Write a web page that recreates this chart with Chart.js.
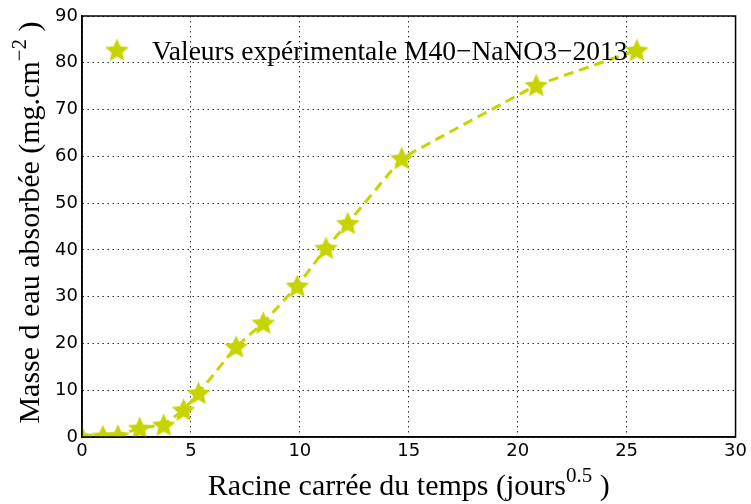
<!DOCTYPE html>
<html>
<head>
<meta charset="utf-8">
<script src="https://cdn.jsdelivr.net/npm/chart.js@4"></script>
<style>
  html, body { margin: 0; padding: 0; background: #fff; }
  #wrap { width: 751px; height: 504px; }
</style>
</head>
<body>
<div id="wrap"><canvas id="chart" width="751" height="504"></canvas></div>
<script>
// square root of time (days^0.5) and absorbed water mass (mg/cm2)
const sqrtTime = [0, 0.96, 1.65, 2.65, 3.75, 4.66, 5.35, 7.07, 8.32, 9.88, 11.2, 12.2, 14.68, 20.85, 25.47];
const massAbsorbed = [0, 0.2, 0.3, 1.9, 2.6, 5.8, 9.4, 19.3, 24.4, 32.3, 40.4, 45.7, 59.6, 75.2, 82.7];
const seriesLabel = 'Valeurs expérimentale M40\u2212NaNO3\u22122013';
const xTitle = [['Racine carrée du temps (jours', false], ['0.5', true], [' )', false]];
const yTitle = [['Masse d eau absorbée (mg.cm', false], ['\u22122', true], [' )', false]];

const starColor = '#c6d400';
const serif = '"Liberation Serif", serif';
const gridColor = 'rgba(0,0,0,0.8)';

// filled five-pointed star used as the marker
function makeStar(r) {
    const c = document.createElement('canvas');
    const s = Math.ceil(r * 2 + 2);
    c.width = s; c.height = s;
    const g = c.getContext('2d');
    g.fillStyle = starColor;
    g.beginPath();
    for (let i = 0; i < 10; i++) {
        const rad = i % 2 === 0 ? r : r * 0.46;
        const a = -Math.PI / 2 + i * Math.PI / 5;
        const px = s / 2 + rad * Math.cos(a);
        const py = s / 2 + rad * Math.sin(a) + r * 0.08;
        if (i === 0) g.moveTo(px, py); else g.lineTo(px, py);
    }
    g.closePath();
    g.fill();
    return c;
}
const star = makeStar(12.5);

// text with a superscript part, centred on (0,0) of the current transform
function drawParts(ctx, parts, size, baseline) {
    const small = Math.round(size * 0.7);
    let total = 0;
    parts.forEach(([t, sup]) => {
        ctx.font = (sup ? small : size) + 'px ' + serif;
        total += ctx.measureText(t).width;
    });
    let x = -total / 2;
    ctx.textAlign = 'left';
    ctx.textBaseline = 'alphabetic';
    parts.forEach(([t, sup]) => {
        ctx.font = (sup ? small : size) + 'px ' + serif;
        ctx.fillText(t, x, sup ? baseline - size * 0.42 : baseline);
        x += ctx.measureText(t).width;
    });
}

const annotations = {
    id: 'annotations',
    afterDraw(chart) {
        const ctx = chart.ctx;
        const area = chart.chartArea;
        ctx.save();
        ctx.fillStyle = '#000';

        // x axis title
        ctx.save();
        ctx.translate((area.left + area.right) / 2, 0);
        drawParts(ctx, xTitle, 30, 495);
        ctx.restore();

        // y axis title
        ctx.save();
        ctx.translate(0, (area.top + area.bottom) / 2 - 4);
        ctx.rotate(-Math.PI / 2);
        drawParts(ctx, yTitle, 30, 39);
        ctx.restore();

        // legend, no frame
        ctx.drawImage(star, area.left + 35 - star.width / 2, area.top + 34 - star.height / 2);
        ctx.font = '27.5px ' + serif;
        ctx.textAlign = 'left';
        ctx.textBaseline = 'alphabetic';
        ctx.fillText(seriesLabel, area.left + 70, area.top + 44);
        ctx.restore();
    }
};

new Chart(document.getElementById('chart'), {
    type: 'line',
    data: {
        datasets: [{
            label: seriesLabel,
            data: sqrtTime.map((x, i) => ({ x: x, y: massAbsorbed[i] })),
            borderColor: starColor,
            backgroundColor: starColor,
            borderWidth: 3,
            borderDash: [10, 6],
            pointStyle: star,
            pointRadius: 12,
            tension: 0,
            clip: 0
        }]
    },
    options: {
        responsive: false,
        animation: false,
        layout: { padding: { top: 16, right: 13, left: 0, bottom: 0 } },
        plugins: { legend: { display: false }, tooltip: { enabled: false } },
        scales: {
            x: {
                type: 'linear',
                min: 0, max: 30,
                ticks: { stepSize: 5, color: '#000', padding: 4, font: { family: '"DejaVu Sans"', size: 18 } },
                grid: { color: gridColor, lineWidth: 1, drawTicks: false },
                border: { display: true, color: '#000', width: 1.5, dash: [1.5, 3.5] },
                afterFit: (scale) => { scale.height = 67; }
            },
            y: {
                min: 0, max: 90,
                ticks: { stepSize: 10, color: '#000', padding: 4, font: { family: '"DejaVu Sans"', size: 18 } },
                grid: { color: gridColor, lineWidth: 1, drawTicks: false },
                border: { display: true, color: '#000', width: 1.5, dash: [1.5, 3.5] },
                afterFit: (scale) => { scale.width = 82; }
            }
        }
    },
    plugins: [annotations, {
        id: 'frame',
        afterDraw(chart) {
            const a = chart.chartArea;
            const ctx = chart.ctx;
            ctx.save();
            ctx.strokeStyle = '#000';
            ctx.lineWidth = 1.5;
            ctx.strokeRect(a.left, a.top, a.right - a.left, a.bottom - a.top);
            ctx.restore();
        }
    }]
});
</script>
</body>
</html>
